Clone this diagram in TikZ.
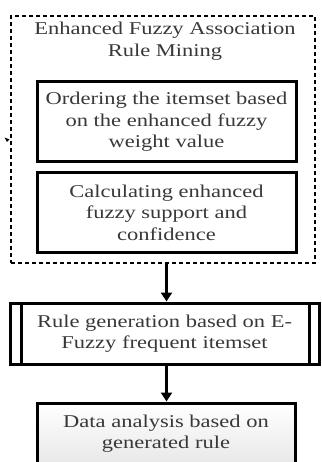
\documentclass[tikz,border=0pt]{standalone}
\usepackage{fontspec}
\setmainfont{Liberation Serif}[FakeStretch=1.25]
\usetikzlibrary{arrows.meta,calc}
\definecolor{txt}{HTML}{383838}
\tikzset{
  lbl/.style={align=center,text=txt,font=\fontsize{18}{21.5}\selectfont,inner sep=0pt},
  solidbox/.style={draw=black,line width=3pt,inner sep=0pt,lbl},
  groupbox/.style={draw=black,line width=2.5pt,dash pattern=on 4pt off 3pt,inner sep=0pt},
  flow/.style={line width=2.8pt,-{Triangle[width=11pt,length=9pt]}}
}
\begin{document}
\begin{tikzpicture}[x=1pt,y=-1pt]
\useasboundingbox (0,0) rectangle (321,462);
\clip (0,0) rectangle (321,462);
\node[groupbox,minimum width=304pt,minimum height=247pt] (outer) at (163,139.5) {};
\node[lbl] (title) at (165,41) {Enhanced Fuzzy Association\\Rule Mining};
\node[solidbox,minimum width=259pt,minimum height=80pt] (b1) at (166.5,122) {Ordering the itemset based\\on the enhanced fuzzy\\weight value};
\node[solidbox,minimum width=259pt,minimum height=79pt] (b2) at (166.5,212.5) {Calculating enhanced\\fuzzy support and\\confidence};
\node[solidbox,minimum width=309pt,minimum height=61pt] (b3) at (164.5,333.5) {Rule generation based on E-\\Fuzzy frequent itemset};
\draw[line width=3pt] ($(b3.north west)+(13,0)$) -- ($(b3.south west)+(13,0)$);
\draw[line width=3pt] ($(b3.north east)+(-11,0)$) -- ($(b3.south east)+(-11,0)$);
\node[solidbox,minimum width=258pt,minimum height=61pt,top color=white,bottom color=black!9] (b4) at (166,433.5) {Data analysis based on\\generated rule};
\draw[flow] (outer.south -| b1.south) -- (b3.north -| b1.south);
\draw[flow] (b3.south -| b1.south) -- (b4.north -| b1.south);
\fill[black] (4.5,137.5) -- (9.5,139.5) -- (7,142) -- cycle;
\end{tikzpicture}
\end{document}
